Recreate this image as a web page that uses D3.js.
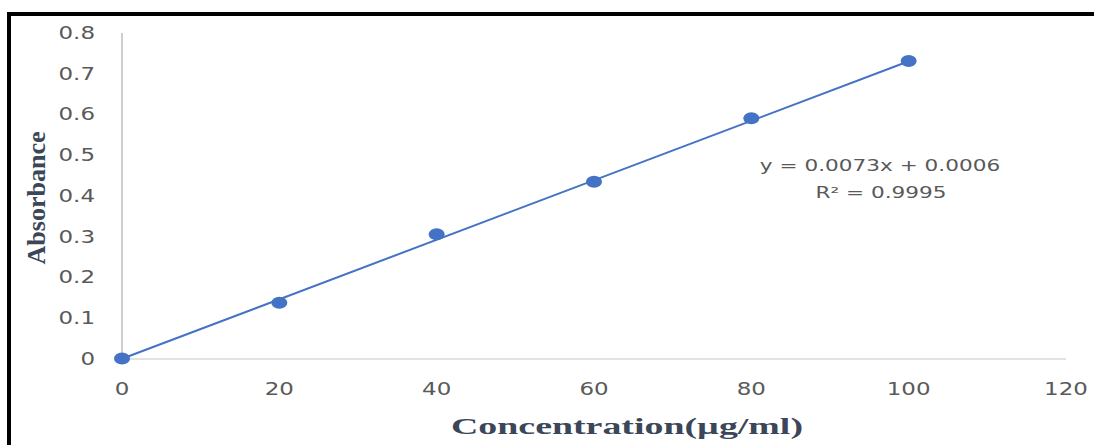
<!DOCTYPE html>
<html>
<head>
<meta charset="utf-8">
<script src="https://cdn.jsdelivr.net/npm/d3@7"></script>
<style>
  html, body { margin: 0; padding: 0; background: #fff; }
  svg { display: block; }
</style>
</head>
<body>
<div id="chart"></div>
<script>
// data
const concentration = [0, 20, 40, 60, 80, 100];
const absorbance = [0.001, 0.138, 0.306, 0.435, 0.591, 0.731];
const xTicks = [0, 20, 40, 60, 80, 100, 120];
const yTicks = [0, 0.1, 0.2, 0.3, 0.4, 0.5, 0.6, 0.7, 0.8];
const slope = 0.0073;
const intercept = 0.0006;
const equationLines = ['y = 0.0073x + 0.0006', 'R² = 0.9995'];

const W = 1094, H = 445;
const stretch = 1.35; // the picture is squashed horizontally, text is wide

const svg = d3.select('#chart').append('svg')
    .attr('width', W)
    .attr('height', H);

// black frame (top and left only are visible)
svg.append('rect').attr('x', 7).attr('y', 12).attr('width', W - 7).attr('height', 4).attr('fill', '#000');
svg.append('rect').attr('x', 7).attr('y', 12).attr('width', 4).attr('height', H - 12).attr('fill', '#000');

const x = d3.scaleLinear().domain([0, 120]).range([122, 1066]);
const y = d3.scaleLinear().domain([0, 0.8]).range([359, 33]);

function wideText(sel, px, py, txt, opts) {
    const g = sel.append('g').attr('transform', `translate(${px},${py}) scale(${opts.sx || stretch},1)`);
    return g.append('text')
        .text(txt)
        .attr('text-anchor', opts.anchor || 'middle')
        .attr('dy', '0.35em')
        .attr('font-family', opts.family || 'DejaVu Sans, sans-serif')
        .attr('font-size', opts.size || 16)
        .attr('font-weight', opts.weight || 'normal')
        .attr('fill', opts.fill || '#595959');
}

// axis lines
svg.append('line')
    .attr('x1', x(0)).attr('x2', x(120))
    .attr('y1', y(0)).attr('y2', y(0))
    .attr('stroke', '#d9d9d9').attr('stroke-width', 1.5);
svg.append('line')
    .attr('x1', x(0)).attr('x2', x(0))
    .attr('y1', y(0)).attr('y2', y(0.8))
    .attr('stroke', '#bfbfbf').attr('stroke-width', 1.5);

// tick labels
const fmtY = d => d === 0 ? '0' : d3.format('.1f')(d);
yTicks.forEach(t => wideText(svg, 95, y(t), fmtY(t), { anchor: 'end', size: 17 }));
xTicks.forEach(t => wideText(svg, x(t), 389, String(t), { size: 17 }));

// trendline
svg.append('line')
    .attr('x1', x(0)).attr('y1', y(intercept))
    .attr('x2', x(100)).attr('y2', y(slope * 100 + intercept))
    .attr('stroke', '#4472c4').attr('stroke-width', 2);

// points
const pts = concentration.map((c, i) => ({ c, a: absorbance[i] }));
svg.append('g').selectAll('ellipse')
    .data(pts)
    .enter()
    .append('ellipse')
    .attr('cx', d => x(d.c))
    .attr('cy', d => y(d.a))
    .attr('rx', 8)
    .attr('ry', 6)
    .attr('fill', '#4472c4');

// trendline equation
wideText(svg, 880, 165, equationLines[0], { size: 16 });
wideText(svg, 881, 192, equationLines[1], { size: 16 });

// axis titles
svg.append('text')
    .text('Absorbance')
    .attr('transform', `translate(36, 198) rotate(-90)`)
    .attr('text-anchor', 'middle')
    .attr('dy', '0.35em')
    .attr('font-family', 'Liberation Serif, serif')
    .attr('font-weight', 'bold')
    .attr('font-size', 26)
    .attr('textLength', 133)
    .attr('lengthAdjust', 'spacingAndGlyphs')
    .attr('fill', '#3b4658');

svg.append('text')
    .text('Concentration(µg/ml)')
    .attr('x', 627)
    .attr('y', 434)
    .attr('text-anchor', 'middle')
    .attr('font-family', 'Liberation Serif, serif')
    .attr('font-weight', 'bold')
    .attr('font-size', 24)
    .attr('textLength', 352)
    .attr('lengthAdjust', 'spacingAndGlyphs')
    .attr('fill', '#3b4658');
</script>
</body>
</html>
